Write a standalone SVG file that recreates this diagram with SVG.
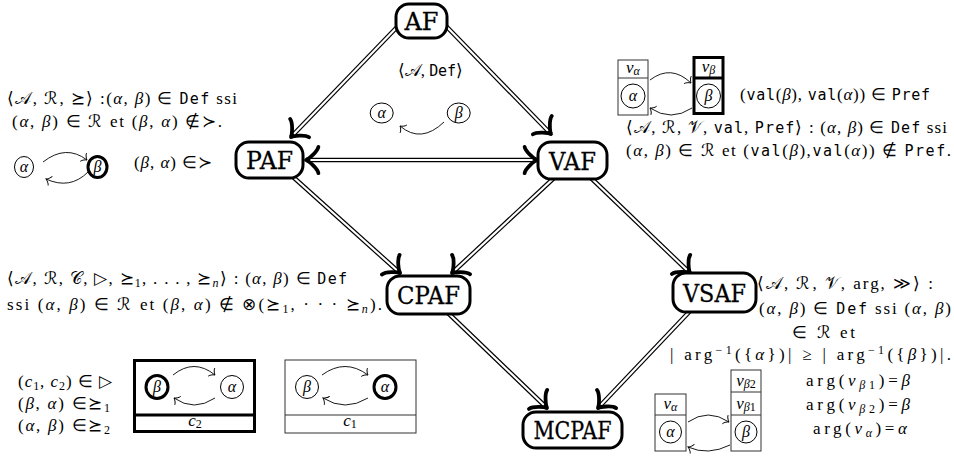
<svg xmlns="http://www.w3.org/2000/svg" width="954" height="456" viewBox="0 0 954 456">
<style>
.m{font-size:17px;fill:#000}
.g{font-size:16px;fill:#000;font-style:italic;text-anchor:middle}
.i{font-style:italic}
.sb{font-size:12px}
.tt{font-size:15px}
.node rect{fill:#fff;stroke:#000;stroke-width:3}
.node text{font-size:25px;text-anchor:middle;fill:#000;stroke:#000;stroke-width:0.3}
.dbo{fill:none;stroke:#000;stroke-width:4.6}
.dbi{fill:none;stroke:#fff;stroke-width:2.2}
.thin{fill:none;stroke:#000;stroke-width:0.9}
.c{fill:#fff;stroke:#000;stroke-width:1}
.ck{fill:#fff;stroke:#000;stroke-width:3}
.bx{fill:none;stroke:#333;stroke-width:1}
.bxk{fill:none;stroke:#000;stroke-width:3}
.ctr{text-anchor:middle}
</style>
<defs>
<marker id="imp" markerUnits="userSpaceOnUse" orient="auto-start-reverse" style="overflow:visible" markerWidth="1" markerHeight="1" refX="0" refY="0">
<path d="M-12.4,-13.2 C-11.6,-8.25 -2.5,-0.83 0,0 C-2.5,0.83 -11.6,8.25 -12.4,13.2" fill="none" stroke="#000" stroke-width="3.8" stroke-linecap="round" stroke-linejoin="round"/>
</marker>
<marker id="to" markerUnits="userSpaceOnUse" orient="auto" style="overflow:visible" markerWidth="1" markerHeight="1" refX="0" refY="0">
<path d="M-4.5,-4.8 C-4.2,-3 -0.9,-0.3 0,0 C-0.9,0.3 -4.2,3 -4.5,4.8" fill="none" stroke="#000" stroke-width="0.9" stroke-linecap="round"/>
</marker>
</defs>
<rect width="954" height="456" fill="#fff"/>

<g id="connectors">
<path class="dbo" d="M400,24 L291,137"/><path class="dbi" d="M400,24 L291,137" marker-end="url(#imp)"/>
<path class="dbo" d="M444,24 L551,134"/><path class="dbi" d="M444,24 L551,134" marker-end="url(#imp)"/>
<path class="dbo" d="M306,160 L537,160"/><path class="dbi" d="M306,160 L537,160" marker-start="url(#imp)" marker-end="url(#imp)"/>
<path class="dbo" d="M292,176 L400,273"/><path class="dbi" d="M292,176 L400,273" marker-end="url(#imp)"/>
<path class="dbo" d="M555,177 L452,273"/><path class="dbi" d="M555,177 L452,273" marker-end="url(#imp)"/>
<path class="dbo" d="M590,177 L690,273"/><path class="dbi" d="M590,177 L690,273" marker-end="url(#imp)"/>
<path class="dbo" d="M447,312 L547,408"/><path class="dbi" d="M447,312 L547,408" marker-end="url(#imp)"/>
<path class="dbo" d="M692,309 L598,408"/><path class="dbi" d="M692,309 L598,408" marker-end="url(#imp)"/>
</g>

<g id="AF" class="node"><rect x="396" y="4" width="51" height="34" rx="13"/><text x="421.5" y="30" font-family="DejaVu Serif" textLength="34" lengthAdjust="spacingAndGlyphs">AF</text></g>
<g id="PAF" class="node"><rect x="236" y="142" width="67" height="36" rx="13"/><text x="269.5" y="169" font-family="DejaVu Serif" textLength="47" lengthAdjust="spacingAndGlyphs">PAF</text></g>
<g id="VAF" class="node"><rect x="538" y="142" width="69" height="37" rx="13"/><text x="572.5" y="169.5" font-family="DejaVu Serif" textLength="47" lengthAdjust="spacingAndGlyphs">VAF</text></g>
<g id="CPAF" class="node"><rect x="387" y="276" width="83" height="38" rx="13"/><text x="428.5" y="304" font-family="DejaVu Serif" textLength="63" lengthAdjust="spacingAndGlyphs">CPAF</text></g>
<g id="VSAF" class="node"><rect x="673" y="273" width="83" height="39" rx="13"/><text x="714.5" y="301.5" font-family="DejaVu Serif" textLength="63" lengthAdjust="spacingAndGlyphs">VSAF</text></g>
<g id="MCPAF" class="node"><rect x="523" y="412" width="99" height="36" rx="13"/><text x="572.5" y="439" font-family="DejaVu Serif" textLength="78" lengthAdjust="spacingAndGlyphs">MCPAF</text></g>

<g id="af-desc">
<text class="m" x="398" y="76" textLength="65" font-family="Liberation Serif">⟨𝒜, <tspan class="tt" font-family="DejaVu Sans Mono">Def</tspan>⟩</text>
<ellipse class="c" cx="381.7" cy="113" rx="11.5" ry="10"/><text class="g" x="381.7" y="118" font-family="Liberation Serif">α</text>
<ellipse class="c" cx="458.7" cy="113" rx="11.5" ry="10"/><text class="g" x="458.7" y="118" font-family="Liberation Serif">β</text>
<path class="thin" d="M444,122 Q421,144 400,126" marker-end="url(#to)"/>
</g>

<g id="paf-desc">
<text class="m" x="7" y="104" textLength="230" font-family="Liberation Serif">⟨𝒜, ℛ, ⪰⟩ :(<tspan class="i">α</tspan>, <tspan class="i">β</tspan>) ∈ <tspan class="tt" font-family="DejaVu Sans Mono">Def</tspan> ssi</text>
<text class="m" x="12" y="127" textLength="210" font-family="Liberation Serif">(<tspan class="i">α</tspan>, <tspan class="i">β</tspan>) ∈ ℛ et (<tspan class="i">β</tspan>, <tspan class="i">α</tspan>) ∉≻.</text>
<ellipse class="c" cx="24" cy="167" rx="9.5" ry="10.5"/><text class="g" x="24" y="172" font-family="Liberation Serif">α</text>
<ellipse class="ck" cx="97.5" cy="167" rx="9.5" ry="10.5"/><text class="g" x="97.5" y="172" font-family="Liberation Serif">β</text>
<path class="thin" d="M43,162 Q66,144 87,160" marker-end="url(#to)"/>
<path class="thin" d="M88,172 Q70,190 46,179" marker-end="url(#to)"/>
<text class="m" x="134" y="168" textLength="78" font-family="Liberation Serif">(<tspan class="i">β</tspan>, <tspan class="i">α</tspan>) ∈≻</text>
</g>

<g id="vaf-desc">
<rect class="bx" x="618" y="60" width="30" height="55"/><line class="bx" x1="618" y1="78" x2="648" y2="78"/>
<text class="m ctr" x="633" y="73" font-family="Liberation Serif"><tspan class="i">v</tspan><tspan class="sb i" dy="2">α</tspan></text>
<ellipse class="c" cx="633" cy="96" rx="12" ry="12"/><text class="g" x="633" y="101" font-family="Liberation Serif">α</text>
<rect class="bxk" x="694" y="57.5" width="29" height="56"/><line class="bxk" x1="694" y1="78" x2="723" y2="78"/>
<text class="m ctr" x="708.5" y="72" font-family="Liberation Serif"><tspan class="i">v</tspan><tspan class="sb i" dy="2">β</tspan></text>
<ellipse class="c" cx="708.5" cy="96" rx="12" ry="12"/><text class="g" x="708.5" y="101" font-family="Liberation Serif">β</text>
<path class="thin" d="M650,80 Q671,64 691,83" marker-end="url(#to)"/>
<path class="thin" d="M692,108 Q671,122 650,108" marker-end="url(#to)"/>
<text class="m" x="740" y="100" textLength="190" font-family="Liberation Serif">(<tspan class="tt" font-family="DejaVu Sans Mono">val</tspan>(<tspan class="i">β</tspan>), <tspan class="tt" font-family="DejaVu Sans Mono">val</tspan>(<tspan class="i">α</tspan>)) ∈ <tspan class="tt" font-family="DejaVu Sans Mono">Pref</tspan></text>
<text class="m" x="626" y="133" textLength="321" font-family="Liberation Serif">⟨𝒜, ℛ, 𝒱, <tspan class="tt" font-family="DejaVu Sans Mono">val</tspan>, <tspan class="tt" font-family="DejaVu Sans Mono">Pref</tspan>⟩ : (<tspan class="i">α</tspan>, <tspan class="i">β</tspan>) ∈ <tspan class="tt" font-family="DejaVu Sans Mono">Def</tspan> ssi</text>
<text class="m" x="626" y="156" textLength="325" font-family="Liberation Serif">(<tspan class="i">α</tspan>, <tspan class="i">β</tspan>) ∈ ℛ et (<tspan class="tt" font-family="DejaVu Sans Mono">val</tspan>(<tspan class="i">β</tspan>),<tspan class="tt" font-family="DejaVu Sans Mono">val</tspan>(<tspan class="i">α</tspan>)) ∉ <tspan class="tt" font-family="DejaVu Sans Mono">Pref</tspan>.</text>
</g>

<g id="cpaf-desc">
<text class="m" x="7" y="284" textLength="340" font-family="Liberation Serif">⟨𝒜, ℛ, 𝒞, ▷, ⪰<tspan class="sb" dy="3">1</tspan><tspan dy="-3">, . . . , ⪰</tspan><tspan class="sb i" dy="3">n</tspan><tspan dy="-3">⟩ : (</tspan><tspan class="i">α</tspan>, <tspan class="i">β</tspan>) ∈ <tspan class="tt" font-family="DejaVu Sans Mono">Def</tspan></text>
<text class="m" x="7" y="310" textLength="375" font-family="Liberation Serif">ssi (<tspan class="i">α</tspan>, <tspan class="i">β</tspan>) ∈ ℛ et (<tspan class="i">β</tspan>, <tspan class="i">α</tspan>) ∉ ⊗(⪰<tspan class="sb" dy="3">1</tspan><tspan dy="-3">, · · · ⪰</tspan><tspan class="sb i" dy="3">n</tspan><tspan dy="-3">).</tspan></text>
<text class="m" x="18" y="387" textLength="94" font-family="Liberation Serif">(<tspan class="i">c</tspan><tspan class="sb" dy="3">1</tspan><tspan dy="-3">, </tspan><tspan class="i">c</tspan><tspan class="sb" dy="3">2</tspan><tspan dy="-3">) ∈ ▷</tspan></text>
<text class="m" x="18" y="409" textLength="92" font-family="Liberation Serif">(<tspan class="i">β</tspan>, <tspan class="i">α</tspan>) ∈⪰<tspan class="sb" dy="3">1</tspan></text>
<text class="m" x="18" y="431" textLength="92" font-family="Liberation Serif">(<tspan class="i">α</tspan>, <tspan class="i">β</tspan>) ∈⪰<tspan class="sb" dy="3">2</tspan></text>
<rect class="bxk" x="134.5" y="360.5" width="120" height="71"/><line class="bxk" x1="134.5" y1="415" x2="254.5" y2="415"/>
<ellipse class="ck" cx="157" cy="387" rx="11" ry="11.5"/><text class="g" x="157" y="392" font-family="Liberation Serif">β</text>
<ellipse class="c" cx="232" cy="387" rx="11.5" ry="11.5"/><text class="g" x="232" y="392" font-family="Liberation Serif">α</text>
<path class="thin" d="M173,375 Q194,358 215,375" marker-end="url(#to)"/>
<path class="thin" d="M215,398 Q194,412 174,398" marker-end="url(#to)"/>
<text class="m ctr" x="195" y="426" font-family="Liberation Serif"><tspan class="i">c</tspan><tspan class="sb" dy="2">2</tspan></text>
<rect class="bx" x="285" y="360" width="131" height="73"/><line class="bx" x1="285" y1="415" x2="416" y2="415"/>
<ellipse class="c" cx="307" cy="387" rx="11.5" ry="11.5"/><text class="g" x="307" y="392" font-family="Liberation Serif">β</text>
<ellipse class="ck" cx="385" cy="387" rx="11" ry="11.5"/><text class="g" x="385" y="392" font-family="Liberation Serif">α</text>
<path class="thin" d="M322,375 Q345,358 368,375" marker-end="url(#to)"/>
<path class="thin" d="M368,398 Q345,412 323,398" marker-end="url(#to)"/>
<text class="m ctr" x="350" y="426" font-family="Liberation Serif"><tspan class="i">c</tspan><tspan class="sb" dy="2">1</tspan></text>
</g>

<g id="vsaf-desc">
<text class="m" x="757" y="289" textLength="176" font-family="Liberation Serif">⟨𝒜, ℛ, 𝒱, arg, ≫⟩ :</text>
<text class="m" x="759" y="314" textLength="192" font-family="Liberation Serif">(<tspan class="i">α</tspan>, <tspan class="i">β</tspan>)  ∈  <tspan class="tt" font-family="DejaVu Sans Mono">Def</tspan>  ssi  (<tspan class="i">α</tspan>, <tspan class="i">β</tspan>)</text>
<text class="m" x="792" y="338" textLength="63" font-family="Liberation Serif">∈ ℛ et</text>
<text class="m" x="670" y="360" textLength="281" font-family="Liberation Serif">| arg<tspan class="sb" dy="-6">−1</tspan><tspan dy="6">({</tspan><tspan class="i">α</tspan>})|  ≥  | arg<tspan class="sb" dy="-6">−1</tspan><tspan dy="6">({</tspan><tspan class="i">β</tspan>})|.</text>
<text class="m" x="806" y="386" textLength="104" font-family="Liberation Serif">arg(<tspan class="i">v</tspan><tspan class="sb" dy="3"><tspan class="i">β</tspan>1</tspan><tspan dy="-3">)=</tspan><tspan class="i">β</tspan></text>
<text class="m" x="806" y="410" textLength="104" font-family="Liberation Serif">arg(<tspan class="i">v</tspan><tspan class="sb" dy="3"><tspan class="i">β</tspan>2</tspan><tspan dy="-3">)=</tspan><tspan class="i">β</tspan></text>
<text class="m" x="813" y="434" textLength="94" font-family="Liberation Serif">arg(<tspan class="i">v</tspan><tspan class="sb i" dy="3">α</tspan><tspan dy="-3">)=</tspan><tspan class="i">α</tspan></text>
<rect class="bx" x="655" y="394" width="31" height="57"/><line class="bx" x1="655" y1="415" x2="686" y2="415"/>
<text class="m ctr" x="670.5" y="409" font-family="Liberation Serif"><tspan class="i">v</tspan><tspan class="sb i" dy="2">α</tspan></text>
<ellipse class="c" cx="670.5" cy="432" rx="11" ry="11"/><text class="g" x="670.5" y="437" font-family="Liberation Serif">α</text>
<rect class="bx" x="731" y="370" width="30" height="81"/><line class="bx" x1="731" y1="392" x2="761" y2="392"/><line class="bx" x1="731" y1="415" x2="761" y2="415"/>
<text class="m ctr" x="746" y="386" font-family="Liberation Serif"><tspan class="i">v</tspan><tspan class="sb" dy="2"><tspan class="i">β</tspan>2</tspan></text>
<text class="m ctr" x="746" y="409" font-family="Liberation Serif"><tspan class="i">v</tspan><tspan class="sb" dy="2"><tspan class="i">β</tspan>1</tspan></text>
<ellipse class="c" cx="746" cy="432" rx="11" ry="11"/><text class="g" x="746" y="437" font-family="Liberation Serif">β</text>
<path class="thin" d="M688,422 Q708,408 729,422" marker-end="url(#to)"/>
<path class="thin" d="M730,445 Q708,456 688,447" marker-end="url(#to)"/>
</g>
</svg>
